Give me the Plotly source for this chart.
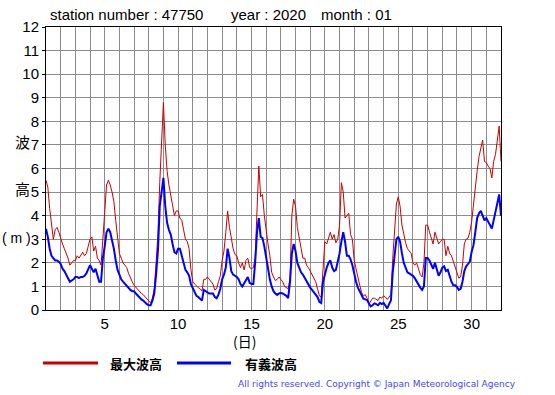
import plotly.graph_objects as go

# 3-hourly readings (8 per day), day 1 00h ... day 31 21h, plus day 32 00h
max_wave = [
    5.5, 5.2, 4.3, 3.6, 3.0, 3.4, 3.5, 3.3,      # 1
    3.0, 2.8, 2.6, 2.4, 2.2, 1.9, 2.0, 2.1,      # 2
    2.1, 2.3, 2.2, 2.3, 2.45, 2.3, 2.4, 2.7,     # 3
    3.0, 3.1, 2.5, 2.7, 2.2, 2.1, 1.9, 3.0,      # 4
    4.2, 5.3, 5.5, 5.3, 5.0, 4.6, 3.8, 3.0,      # 5
    2.4, 2.2, 2.0, 1.9, 1.8, 1.55, 1.35, 1.2,    # 6
    1.05, 0.95, 0.85, 0.8, 0.7, 0.65, 0.55, 0.45,  # 7
    0.35, 0.3, 0.5, 0.9, 2.0, 3.2, 5.4, 6.9,     # 8
    8.8, 7.0, 5.9, 5.3, 4.9, 4.4, 4.0, 4.2,      # 9
    4.2, 3.9, 3.8, 3.4, 3.0, 2.9, 2.6, 1.7,      # 10
    1.2, 1.1, 1.0, 0.95, 0.9, 0.8, 1.3, 1.3,     # 11
    1.4, 1.3, 1.2, 1.1, 0.85, 0.9, 1.2, 1.45,    # 12
    2.1, 2.5, 3.3, 4.2, 3.5, 3.0, 2.6, 2.35,     # 13
    2.3, 2.0, 1.8, 2.0, 1.7, 2.1, 2.2, 1.8,      # 14
    1.75, 1.8, 2.2, 4.2, 6.1, 4.8, 4.9, 4.0,     # 15
    3.3, 2.8, 2.3, 1.6, 1.4, 1.25, 1.3, 1.4,     # 16
    1.3, 1.2, 1.0, 0.95, 0.9, 1.3, 4.0, 4.7,     # 17
    4.4, 3.5, 3.0, 2.7, 2.2, 2.2, 1.9, 1.8,      # 18
    1.65, 1.45, 1.3, 1.2, 0.9, 0.6, 0.55, 1.6,   # 19
    2.9, 2.8, 3.1, 3.3, 3.0, 3.2, 2.85, 3.0,     # 20
    3.6, 5.4, 5.0, 3.9, 4.0, 4.1, 3.2, 3.0,      # 21
    2.1, 1.7, 1.4, 1.05, 0.75, 0.6, 0.65, 0.5,   # 22
    0.25, 0.35, 0.5, 0.5, 0.45, 0.4, 0.55, 0.5,  # 23
    0.6, 0.55, 0.45, 0.55, 0.65, 2.2, 3.5, 4.5,  # 24
    4.8, 4.4, 3.6, 3.2, 2.85, 2.6, 2.5, 2.4,     # 25
    2.0, 1.9, 2.0, 1.75, 1.5, 1.4, 2.0, 3.6,     # 26
    3.6, 3.3, 3.0, 2.8, 3.3, 3.0, 2.8, 2.9,      # 27
    3.0, 3.0, 2.3, 2.7, 2.4, 2.3, 2.05, 1.9,     # 28
    1.6, 1.35, 1.4, 1.9, 2.8, 3.0, 3.05, 3.3,    # 29
    3.74, 4.5, 5.3, 5.9, 6.5, 6.8, 7.2, 6.3,     # 30
    6.25, 6.1, 6.0, 5.6, 6.3, 6.6, 7.3, 7.8,     # 31
    6.3,                                         # 32 00h
]
sig_wave = [
    3.45, 3.1, 2.6, 2.3, 2.2, 2.1, 2.1, 2.05,    # 1
    1.95, 1.75, 1.65, 1.5, 1.35, 1.2, 1.25, 1.3,  # 2
    1.4, 1.4, 1.35, 1.4, 1.4, 1.45, 1.55, 1.75,  # 3
    1.9, 1.75, 1.6, 1.75, 1.5, 1.2, 1.2, 2.2,    # 4
    2.7, 3.3, 3.45, 3.3, 2.95, 2.6, 2.1, 1.7,    # 5
    1.5, 1.3, 1.2, 1.1, 1.05, 0.95, 0.85, 0.8,   # 6
    0.8, 0.7, 0.6, 0.5, 0.45, 0.4, 0.3, 0.25,    # 7
    0.2, 0.2, 0.4, 0.7, 1.5, 2.5, 4.4, 4.9,      # 8
    5.6, 4.4, 3.7, 3.4, 3.2, 2.8, 2.45, 2.4,     # 9
    2.6, 2.6, 2.3, 2.0, 1.7, 1.6, 1.45, 1.1,     # 10
    0.95, 0.75, 0.6, 0.55, 0.45, 0.4, 0.85, 0.8,  # 11
    0.75, 0.7, 0.7, 0.7, 0.55, 0.5, 0.65, 0.9,   # 12
    1.3, 1.5, 1.8, 2.6, 2.2, 1.65, 1.5, 1.45,    # 13
    1.4, 1.3, 1.1, 1.0, 1.15, 1.3, 1.4, 1.15,    # 14
    1.1, 1.1, 2.0, 3.3, 3.9, 3.1, 3.05, 2.7,     # 15
    2.2, 1.6, 1.3, 1.0, 0.8, 0.7, 0.64, 0.7,     # 16
    0.72, 0.7, 0.65, 0.6, 0.5, 1.2, 2.4, 2.8,    # 17
    2.5, 2.0, 1.8, 1.6, 1.5, 1.35, 1.25, 1.1,    # 18
    0.95, 0.85, 0.75, 0.65, 0.55, 0.35, 0.3, 1.2,  # 19
    1.55, 1.8, 2.0, 2.1, 1.8, 1.65, 1.7, 2.0,    # 20
    2.4, 2.9, 3.3, 2.9, 2.3, 2.3, 2.15, 1.9,     # 21
    1.5, 1.2, 0.95, 0.8, 0.6, 0.48, 0.45, 0.42,  # 22
    0.28, 0.15, 0.2, 0.28, 0.25, 0.2, 0.3, 0.25,  # 23
    0.3, 0.2, 0.07, 0.25, 0.4, 1.6, 2.3, 3.0,    # 24
    3.1, 2.9, 2.4, 2.0, 1.8, 1.6, 1.55, 1.5,     # 25
    1.45, 1.35, 1.2, 1.05, 0.95, 0.85, 1.0, 2.2,  # 26
    2.2, 2.1, 1.9, 1.75, 2.0, 1.7, 1.45, 1.6,    # 27
    1.8, 1.85, 1.65, 1.7, 1.4, 1.2, 1.05, 1.05,  # 28
    0.98, 0.85, 0.9, 1.2, 1.65, 1.85, 1.95, 2.05,  # 29
    2.47, 2.75, 3.3, 3.9, 4.1, 4.2, 4.0, 3.8,    # 30
    3.9, 3.75, 3.6, 3.45, 3.8, 4.2, 4.6, 4.9,    # 31
    4.0,                                         # 32 00h
]
samples_per_day = 8
x_tick_vals = [5, 10, 15, 20, 25, 30]
y_tick_vals = list(range(0, 13))

times = [1 + k / samples_per_day for k in range(len(max_wave))]

W, H = 555, 395
L, R, T, B = 46, 501, 27, 310


def px(x):
    return (x - L) / (R - L)


def py(y):
    return (B - y) / (B - T)


fig = go.Figure()
fig.add_trace(go.Scatter(x=times, y=max_wave, mode="lines",
                         line=dict(color="#cc0000", width=1), name="最大波高",
                         showlegend=False))
fig.add_trace(go.Scatter(x=times, y=sig_wave, mode="lines",
                         line=dict(color="#0000ff", width=2), name="有義波高",
                         showlegend=False))

font_main = "Liberation Sans, Arial, sans-serif"
cjk = "Noto Sans CJK JP"

all_days = list(range(1, 33))
fig.update_xaxes(range=[1, 32], tickvals=all_days,
                 ticktext=[str(d) if d in x_tick_vals else "" for d in all_days],
                 showgrid=True, gridcolor="#8c8c8c", gridwidth=1,
                 showline=True, linecolor="black", linewidth=1, mirror=True,
                 ticks="", zeroline=False,
                 tickfont=dict(family=font_main, size=15, color="black"))
fig.update_yaxes(range=[0, 12], tickvals=y_tick_vals,
                 showgrid=True, gridcolor="#8c8c8c", gridwidth=1,
                 showline=True, linecolor="black", linewidth=1, mirror=True,
                 ticks="outside", ticklen=3, tickcolor="black", zeroline=False,
                 tickfont=dict(family=font_main, size=15, color="black"))

ann = []
# title pieces
ann.append(dict(text="station number : 47750", x=px(48), y=py(15), xanchor="left", yanchor="middle",
                font=dict(family=font_main, size=15, color="black")))
ann.append(dict(text="year : 2020", x=px(229), y=py(15), xanchor="left", yanchor="middle",
                font=dict(family=font_main, size=15, color="black")))
ann.append(dict(text="month : 01", x=px(319), y=py(15), xanchor="left", yanchor="middle",
                font=dict(family=font_main, size=15, color="black")))
# y-axis label
ann.append(dict(text="波", x=px(13), y=py(141), font=dict(family=cjk, size=15, color="black")))
ann.append(dict(text="高", x=px(13), y=py(188), font=dict(family=cjk, size=15, color="black")))
ann.append(dict(text="( m )", x=px(1), y=py(238), xanchor="left", borderpad=0,
                font=dict(family=font_main, size=14, color="black")))
# x-axis label
ann.append(dict(text="(日)", x=px(244), y=py(341), font=dict(family=cjk, size=14, color="black")))
# legend text
ann.append(dict(text="<b>最大波高</b>", x=px(108), y=py(363), xanchor="left",
                font=dict(family=cjk, size=13, color="black")))
ann.append(dict(text="<b>有義波高</b>", x=px(243), y=py(363), xanchor="left",
                font=dict(family=cjk, size=13, color="black")))
# copyright
ann.append(dict(text="All rights reserved. Copyright © Japan Meteorological Agency",
                x=px(518), y=py(384), xanchor="right",
                font=dict(family="DejaVu Sans", size=9, color="#4646ff")))
for a in ann:
    a.update(xref="paper", yref="paper", showarrow=False)
    a.setdefault("yanchor", "middle")

shapes = [
    dict(type="line", xref="paper", yref="paper", x0=px(43), x1=px(98), y0=py(363), y1=py(363),
         line=dict(color="#cc0000", width=3)),
    dict(type="line", xref="paper", yref="paper", x0=px(177), x1=px(231), y0=py(363), y1=py(363),
         line=dict(color="#0000ff", width=3)),
]

fig.update_layout(width=W, height=H, margin=dict(l=L, r=W - R, t=T, b=H - B, pad=0),
                  paper_bgcolor="white", plot_bgcolor="white",
                  annotations=ann, shapes=shapes, showlegend=False)

fig.write_html("out.html", config={"displayModeBar": False},
               post_script="document.body.style.margin='0px';document.body.style.padding='0px';")
